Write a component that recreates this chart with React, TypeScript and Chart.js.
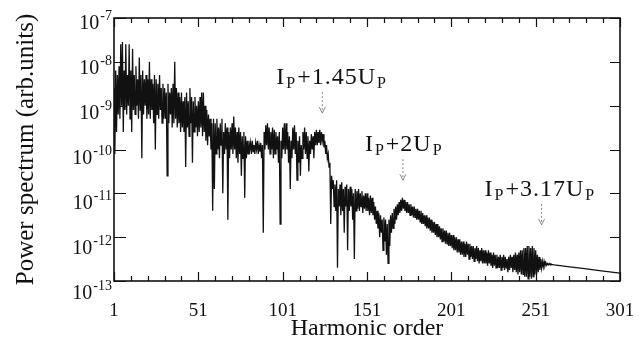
import React, { useEffect, useRef } from 'react';
import { Chart, registerables } from 'chart.js';

Chart.register(...registerables);

const FONT = '"Liberation Serif", "Times New Roman", Times, serif';

// Power spectrum as log10 exponents. "peak" values sit on integer harmonic
// orders, "trough" values halfway between consecutive orders.
// Harmonics 1..100
const peakExpA = [
  -8.6, -8.2, -8.3, -8.1, -7.6, -7.55, -8.2, -7.6, -8.3, -7.6,
  -8.2, -7.7, -8.3, -8.1, -8.4, -7.9, -8.3, -8.2, -8.4, -8.3,
  -8.4, -8.0, -8.4, -8.5, -8.3, -8.4, -8.5, -8.3, -8.6, -8.5,
  -8.6, -8.7, -8.5, -8.7, -8.6, -8.5, -8.0, -8.6, -8.7, -8.8,
  -8.7, -8.9, -8.8, -8.7, -8.9, -8.6, -8.8, -8.9, -8.8, -9.0,
  -8.9, -8.8, -8.7, -8.7, -9.0, -9.1, -9.2, -9.3, -9.4, -9.3,
  -9.4, -9.3, -9.5, -9.4, -9.3, -9.6, -9.4, -9.5, -9.6, -9.5,
  -9.4, -9.25, -9.5, -9.6, -9.5, -9.6, -9.7, -9.6, -9.7, -9.8,
  -9.8, -9.85, -9.8, -9.9, -9.85, -9.8, -9.9, -9.85, -9.9, -9.6,
  -9.45, -9.4, -9.5, -9.6, -9.5, -9.55, -9.6, -9.7, -9.6, -9.8,
];
const troughExpA = [
  -10.1, -9.6, -9.2, -9.3, -9.0, -9.6, -9.1, -9.2, -9.0, -9.3,
  -9.6, -9.1, -9.2, -9.0, -9.3, -9.1, -10.2, -9.2, -9.0, -9.3,
  -9.2, -9.3, -9.1, -9.4, -10.0, -9.2, -9.3, -9.1, -9.4, -9.3,
  -9.3, -10.6, -9.4, -9.2, -9.5, -9.4, -9.3, -9.5, -9.4, -9.6,
  -9.5, -9.6, -10.4, -9.5, -9.7, -9.4, -10.3, -9.6, -9.5, -9.7,
  -9.6, -9.5, -9.7, -9.6, -9.8, -9.9, -9.7, -10.0, -11.4, -10.9,
  -10.1, -10.0, -10.2, -9.9, -11.0, -10.1, -10.0, -11.6, -10.2, -10.0,
  -10.1, -10.0, -10.2, -10.3, -10.1, -10.6, -10.2, -11.1, -10.2, -10.1,
  -10.0, -10.1, -10.05, -10.1, -10.0, -10.1, -10.05, -10.2, -11.9, -10.0,
  -9.9, -10.0, -10.1, -10.0, -10.2, -10.1, -10.0, -10.3, -11.7, -10.2,
];
// Harmonics 101..200
const peakExpB = [
  -9.5, -9.4, -9.4, -9.6, -9.7, -9.8, -9.5, -9.45, -9.6, -9.8,
  -9.7, -9.9, -9.6, -9.5, -9.6, -9.7, -9.8, -9.65, -9.7, -9.6,
  -9.55, -9.6, -9.55, -9.6, -9.65, -9.8, -9.9, -10.1, -10.3, -10.6,
  -10.7, -10.8, -10.7, -10.9, -10.8, -10.75, -10.9, -10.85, -10.8, -10.9,
  -10.85, -10.9, -11.0, -10.9, -10.95, -10.9, -11.0, -10.95, -11.05, -11.0,
  -11.0, -11.1, -11.05, -11.1, -11.2, -11.3, -11.4, -11.45, -11.5, -11.6,
  -11.55, -11.6, -11.7, -11.6, -11.5, -11.45, -11.35, -11.3, -11.25, -11.2,
  -11.15, -11.1, -11.15, -11.2, -11.2, -11.25, -11.25, -11.3, -11.3, -11.35,
  -11.35, -11.4, -11.4, -11.45, -11.5, -11.5, -11.55, -11.55, -11.6, -11.65,
  -11.65, -11.7, -11.7, -11.75, -11.8, -11.8, -11.85, -11.85, -11.9, -11.9,
];
const troughExpB = [
  -10.0, -10.1, -10.0, -10.3, -10.9, -10.2, -10.0, -10.1, -10.7, -10.3,
  -10.6, -10.2, -10.0, -10.1, -10.2, -10.5, -10.1, -10.0, -10.2, -9.9,
  -9.9, -9.85, -9.9, -9.8, -9.95, -10.1, -10.2, -10.4, -11.7, -10.9,
  -11.3, -11.4, -12.7, -11.3, -11.5, -11.4, -11.9, -11.3, -12.3, -11.4,
  -11.3, -11.6, -12.5, -11.4, -11.35, -11.4, -11.3, -11.45, -11.35, -11.4,
  -11.4, -11.5, -11.45, -11.5, -11.6, -11.7, -11.8, -12.0, -11.9, -12.3,
  -12.1, -12.4, -12.6, -12.2, -11.9, -11.8, -11.7, -11.6, -11.5, -11.45,
  -11.4, -11.35, -11.4, -11.45, -11.45, -11.5, -11.5, -11.55, -11.55, -11.6,
  -11.6, -11.65, -11.7, -11.7, -11.75, -11.8, -11.8, -11.85, -11.9, -11.9,
  -11.95, -12.0, -12.0, -12.05, -12.1, -12.1, -12.15, -12.15, -12.2, -12.2,
];
// Harmonics 201..260
const peakExpC = [
  -11.95, -11.95, -12.0, -12.0, -12.05, -12.05, -12.1, -12.1, -12.15, -12.1,
  -12.15, -12.15, -12.2, -12.2, -12.25, -12.2, -12.25, -12.3, -12.25, -12.3,
  -12.3, -12.35, -12.3, -12.35, -12.4, -12.35, -12.4, -12.4, -12.45, -12.4,
  -12.45, -12.4, -12.45, -12.5, -12.45, -12.4, -12.45, -12.4, -12.35, -12.4,
  -12.35, -12.3, -12.3, -12.25, -12.25, -12.2, -12.2, -12.25, -12.2, -12.25,
  -12.3, -12.4, -12.45, -12.5, -12.55, -12.55, -12.58, -12.6, -12.6, -12.61,
];
const troughExpC = [
  -12.25, -12.3, -12.3, -12.35, -12.35, -12.4, -12.4, -12.45, -12.45, -12.4,
  -12.5, -12.45, -12.5, -12.55, -12.5, -12.55, -12.6, -12.55, -12.6, -12.6,
  -12.6, -12.65, -12.6, -12.65, -12.7, -12.65, -12.7, -12.7, -12.7, -12.75,
  -12.7, -12.75, -12.7, -12.8, -12.75, -12.7, -12.8, -12.75, -12.8, -12.85,
  -12.8, -12.85, -12.85, -12.9, -12.9, -12.95, -12.9, -12.95, -12.9, -12.85,
  -12.85, -12.8, -12.75, -12.7, -12.68, -12.65, -12.64, -12.63, -12.63, -12.62,
];
// Smooth tail beyond the cutoff
const tailHarmonics = [262, 270, 280, 290, 301];
const tailExp = [-12.63, -12.67, -12.72, -12.77, -12.82];

const xTickLabels = [1, 51, 101, 151, 201, 251, 301];
const yDecades = [-7, -8, -9, -10, -11, -12, -13];

const annotations = [
  { parts: ['I', 'P', '+1.45U', 'P'], harmonic: 124.5, tipExp: -9.17, textDx: 46 },
  { parts: ['I', 'P', '+2U', 'P'], harmonic: 172.3, tipExp: -10.7, textDx: 38 },
  { parts: ['I', 'P', '+3.17U', 'P'], harmonic: 254.5, tipExp: -11.72, textDx: 57 },
];

function buildPoints() {
  const pts: { x: number; y: number }[] = [];
  const add = (peaks: number[], troughs: number[], start: number) => {
    peaks.forEach((e, i) => {
      pts.push({ x: start + i, y: Math.pow(10, e) });
      pts.push({ x: start + i + 0.5, y: Math.pow(10, troughs[i]) });
    });
  };
  add(peakExpA, troughExpA, 1);
  add(peakExpB, troughExpB, 101);
  add(peakExpC, troughExpC, 201);
  tailHarmonics.forEach((h, i) => pts.push({ x: h, y: Math.pow(10, tailExp[i]) }));
  return pts;
}

const decorPlugin = {
  id: 'decor',
  afterDraw(chart: any) {
    const { ctx, chartArea } = chart;
    const { left, right, top, bottom } = chartArea;
    const xs = chart.scales.x;
    const ys = chart.scales.y;
    ctx.save();
    ctx.strokeStyle = '#111';
    ctx.fillStyle = '#111';
    // frame
    ctx.lineWidth = 1.6;
    ctx.strokeRect(left, top, right - left, bottom - top);
    // x ticks (inward, top and bottom)
    ctx.lineWidth = 1.2;
    for (let h = 1; h <= 301; h += 10) {
      const px = Math.round(xs.getPixelForValue(h)) + 0.5;
      const major = (h - 1) % 50 === 0;
      const len = major ? 9 : 5;
      ctx.beginPath();
      ctx.moveTo(px, bottom);
      ctx.lineTo(px, bottom - len);
      ctx.moveTo(px, top);
      ctx.lineTo(px, top + len);
      ctx.stroke();
    }
    // y ticks (inward, left and right)
    yDecades.forEach((e) => {
      const py = Math.round(ys.getPixelForValue(Math.pow(10, e))) + 0.5;
      ctx.beginPath();
      ctx.moveTo(left, py);
      ctx.lineTo(left + 12, py);
      ctx.moveTo(right, py);
      ctx.lineTo(right - 10, py);
      ctx.stroke();
    });
    // y tick labels
    yDecades.forEach((e, i) => {
      const py = ys.getPixelForValue(Math.pow(10, e));
      const sup = '-' + Math.abs(e);
      ctx.font = `14px ${FONT}`;
      ctx.textAlign = 'right';
      ctx.textBaseline = 'alphabetic';
      const supW = ctx.measureText(sup).width;
      ctx.fillText(sup, 112, py + 2 + i * 1.1);
      ctx.font = `20px ${FONT}`;
      ctx.fillText('10', 112 - supW - 1, py + 10.5 + i * 1.2);
    });
    // x tick labels
    ctx.font = `19px ${FONT}`;
    ctx.textAlign = 'center';
    xTickLabels.forEach((h) => {
      ctx.fillText(String(h), xs.getPixelForValue(h), 316);
    });
    // axis titles
    ctx.font = `24px ${FONT}`;
    ctx.fillText('Harmonic order', (left + right) / 2, 335);
    ctx.save();
    ctx.translate(33, (top + bottom) / 2);
    ctx.rotate(-Math.PI / 2);
    ctx.font = `25px ${FONT}`;
    ctx.fillText('Power spectrum (arb.units)', 0, 0);
    ctx.restore();
    // annotations
    annotations.forEach((a) => {
      const ax = xs.getPixelForValue(a.harmonic);
      const tipY = ys.getPixelForValue(Math.pow(10, a.tipExp));
      ctx.save();
      ctx.strokeStyle = '#8a8a8a';
      ctx.lineWidth = 1;
      ctx.setLineDash([2, 2]);
      ctx.beginPath();
      ctx.moveTo(ax, tipY - 21);
      ctx.lineTo(ax, tipY);
      ctx.stroke();
      ctx.setLineDash([]);
      ctx.beginPath();
      ctx.moveTo(ax - 3, tipY - 6);
      ctx.lineTo(ax, tipY);
      ctx.lineTo(ax + 3, tipY - 6);
      ctx.stroke();
      ctx.restore();
      let tx = ax - a.textDx;
      const baseY = tipY - 29;
      ctx.textAlign = 'left';
      a.parts.forEach((p, k) => {
        const sub = k % 2 === 1;
        ctx.font = sub ? `16px ${FONT}` : `24px ${FONT}`;
        (ctx as any).letterSpacing = '1px';
        ctx.fillText(p, tx, sub ? baseY + 4 : baseY);
        tx += ctx.measureText(p).width + 1;
      });
      (ctx as any).letterSpacing = '0px';
    });
    ctx.restore();
  },
};

export default function App() {
  const ref = useRef<HTMLCanvasElement>(null);
  useEffect(() => {
    if (!ref.current) return;
    const chart = new Chart(ref.current, {
      type: 'line',
      data: {
        datasets: [
          {
            data: buildPoints(),
            borderColor: '#111',
            borderWidth: 1.3,
            pointRadius: 0,
            tension: 0,
            fill: false,
          },
        ],
      },
      options: {
        animation: false,
        responsive: false,
        devicePixelRatio: 1,
        parsing: false as any,
        layout: { padding: { top: 18, right: 24, left: 0, bottom: 0 } },
        plugins: { legend: { display: false }, tooltip: { enabled: false } },
        scales: {
          x: {
            type: 'linear',
            min: 1,
            max: 301,
            ticks: { display: false },
            grid: { display: false },
            border: { display: false },
            afterFit: (s: any) => { s.height = 58; },
          },
          y: {
            type: 'logarithmic',
            min: 1e-13,
            max: 1e-7,
            ticks: { display: false },
            grid: { display: false },
            border: { display: false },
            afterFit: (s: any) => { s.width = 114; },
          },
        },
      },
      plugins: [decorPlugin],
    });
    return () => chart.destroy();
  }, []);
  return (
    <div style={{ position: 'fixed', left: 0, top: 0, background: '#fff' }}>
      <canvas ref={ref} width={644} height={339} style={{ display: 'block' }} />
    </div>
  );
}
